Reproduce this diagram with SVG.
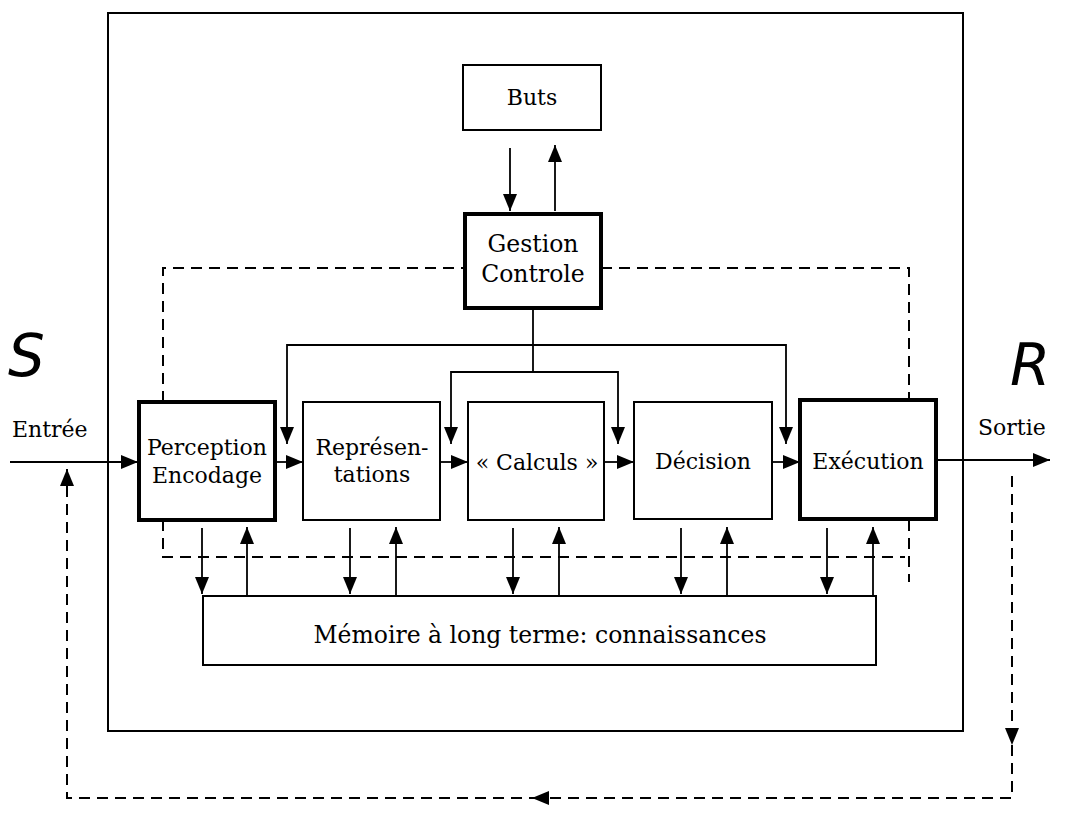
<svg xmlns="http://www.w3.org/2000/svg" width="1072" height="817" viewBox="0 0 1072 817">
<style>
.box{fill:#fff;stroke:#000;stroke-width:2}
.thick{fill:#fff;stroke:#000;stroke-width:4}
.frame{fill:none;stroke:#000;stroke-width:2}
.lbl{font-family:"DejaVu Serif","Liberation Serif",serif;font-size:22px;fill:#000;text-anchor:middle}
.side{font-family:"DejaVu Serif","Liberation Serif",serif;font-size:22px;fill:#000}
.hand{font-family:"DejaVu Sans","Liberation Sans",sans-serif;font-size:58px;fill:#000;font-style:italic}
.ln{fill:none;stroke:#000;stroke-width:1.8}
.arr{marker-end:url(#ah)}
.dash{fill:none;stroke:#000;stroke-width:2;stroke-dasharray:11 7}
</style>
<defs>
<marker id="ah" markerUnits="userSpaceOnUse" markerWidth="17" markerHeight="14" refX="17" refY="7" orient="auto">
<path d="M0,0 L17,7 L0,14 Z" fill="#000"/>
</marker>
</defs>
<rect width="1072" height="817" fill="#fff"/>
<g id="system-frame"><rect class="frame" x="108" y="13" width="855" height="718"/></g>
<g id="connectors">
<path class="ln arr" d="M510,148 V211"/>
<path class="ln arr" d="M555,211 V145"/>
<path class="ln" d="M533,308 V372"/>
<path class="ln arr" d="M533,345 H287 V444"/>
<path class="ln arr" d="M533,345 H786 V444"/>
<path class="ln arr" d="M533,372 H451 V444"/>
<path class="ln arr" d="M533,372 H618 V444"/>
<path class="ln arr" d="M10,462 H138"/>
<path class="ln arr" d="M275,462 H303"/>
<path class="ln arr" d="M440,462 H468"/>
<path class="ln arr" d="M604,462 H634"/>
<path class="ln arr" d="M772,462 H800"/>
<path class="ln arr" d="M936,460 H1050"/>
<path class="ln arr" d="M202,528 V594"/>
<path class="ln arr" d="M247,597 V527"/>
<path class="ln arr" d="M350,528 V594"/>
<path class="ln arr" d="M396,597 V527"/>
<path class="ln arr" d="M513,528 V594"/>
<path class="ln arr" d="M559,597 V527"/>
<path class="ln arr" d="M681,528 V594"/>
<path class="ln arr" d="M727,597 V527"/>
<path class="ln arr" d="M827,528 V594"/>
<path class="ln arr" d="M873,597 V527"/>
<path class="dash" d="M163,402 V268 H465"/>
<path class="dash" d="M601,268 H909 V399"/>
<path class="dash" d="M163,520 V557 H905"/>
<path class="dash" d="M909,520 V582"/>
<path class="dash arr" d="M1012,476 V745"/>
<path class="dash arr" d="M1012,745 V798 H532"/>
<path class="dash arr" d="M540,798 H67 V469"/>
</g>
<g id="buts"><rect class="box" x="463" y="65" width="138" height="65"/><text class="lbl" x="532" y="105">Buts</text></g>
<g id="gestion"><rect class="thick" x="465" y="214" width="136" height="94"/><text class="lbl" x="533" y="252" style="font-size:23.5px">Gestion</text><text class="lbl" x="533" y="282" style="font-size:23.5px">Controle</text></g>
<g id="perception"><rect class="thick" x="139" y="402" width="136" height="118"/><text class="lbl" x="207" y="455">Perception</text><text class="lbl" x="207" y="483">Encodage</text></g>
<g id="representations"><rect class="box" x="303" y="402" width="137" height="118"/><text class="lbl" x="372" y="455">Représen-</text><text class="lbl" x="372" y="482">tations</text></g>
<g id="calculs"><rect class="box" x="468" y="402" width="136" height="118"/><text class="lbl" x="537" y="470">« Calculs »</text></g>
<g id="decision"><rect class="box" x="634" y="402" width="138" height="117"/><text class="lbl" x="703" y="469">Décision</text></g>
<g id="execution"><rect class="thick" x="800" y="400" width="136" height="119"/><text class="lbl" x="868" y="469">Exécution</text></g>
<g id="memoire"><rect class="box" x="203" y="596" width="673" height="69"/><text class="lbl" x="540" y="643" style="font-size:23.5px">Mémoire à long terme: connaissances</text></g>
<g id="labels">
<text class="side" x="12" y="437">Entrée</text>
<text class="side" x="978" y="435">Sortie</text>
<text class="hand" x="8" y="376">S</text>
<text class="hand" x="1010" y="385">R</text>
</g>
</svg>
